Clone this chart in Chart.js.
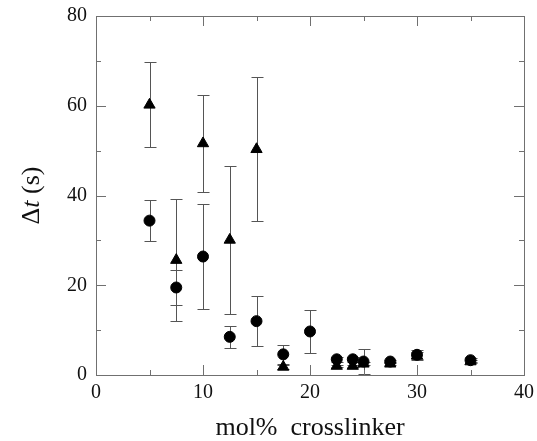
<!DOCTYPE html>
<html>
<head>
<meta charset="utf-8">
<script src="https://cdn.jsdelivr.net/npm/chart.js@4"></script>
<style>
  html, body { margin: 0; padding: 0; background: #fff; }
  #wrap { width: 537px; height: 441px; }
</style>
</head>
<body>
<div id="wrap"><canvas id="crosslink"></canvas></div>
<script>
// crosslinker content (mol%)
var circleX = [5, 7.5, 10, 12.5, 15, 17.5, 20, 22.5, 24, 25, 27.5, 30, 35];
var circleY = [34.4, 19.5, 26.4, 8.5, 12.0, 4.6, 9.7, 3.5, 3.5, 3.0, 3.0, 4.5, 3.3];
var circleErr = [4.6, 4.0, 11.8, 2.4, 5.6, 2.1, 4.7, 0.5, 0.5, 2.7, 0.4, 1.1, 0.4];

var triX = [5, 7.5, 10, 12.5, 15, 17.5, 22.5, 24, 25, 27.5, 30, 35];
var triY = [60.2, 25.6, 51.6, 30.1, 50.3, 1.8, 2.0, 2.0, 2.5, 2.5, 4.3, 3.0];
var triErr = [9.5, 13.6, 10.8, 16.5, 16.0, 0.5, 0.3, 0.3, 0.3, 0.3, 0.8, 0.3];

var xTicks = [0, 10, 20, 30, 40];
var yTicks = [0, 20, 40, 60, 80];

var axisGrey = '#707070';
var serif = '"Liberation Serif", "DejaVu Serif", serif';

function toPoints(xs, ys, es) {
    return xs.map(function (x, i) { return { x: x, y: ys[i], err: es[i] }; });
}

// error bars under the markers
var errorBars = {
    id: 'errorBars',
    beforeDatasetsDraw: function (chart) {
        var ctx = chart.ctx;
        var xs = chart.scales.x, ys = chart.scales.y;
        ctx.save();
        ctx.strokeStyle = '#555';
        ctx.lineWidth = 1;
        chart.data.datasets.forEach(function (ds) {
            ds.data.forEach(function (p) {
                var px = Math.round(xs.getPixelForValue(p.x)) + 0.5;
                var top = Math.round(ys.getPixelForValue(p.y + p.err)) + 0.5;
                var bot = Math.round(ys.getPixelForValue(Math.max(0, p.y - p.err))) + 0.5;
                ctx.beginPath();
                ctx.moveTo(px, top); ctx.lineTo(px, bot);
                ctx.moveTo(px - 6, top); ctx.lineTo(px + 6, top);
                ctx.moveTo(px - 6, bot); ctx.lineTo(px + 6, bot);
                ctx.stroke();
            });
        });
        ctx.restore();
    }
};

// box frame, inward ticks, y title with italic t
var frame = {
    id: 'frame',
    afterDraw: function (chart) {
        var ctx = chart.ctx, a = chart.chartArea;
        var xs = chart.scales.x, ys = chart.scales.y;
        ctx.save();
        ctx.strokeStyle = axisGrey;
        ctx.lineWidth = 1;
        ctx.strokeRect(Math.round(a.left) + 0.5, Math.round(a.top) + 0.5,
            Math.round(a.right - a.left), Math.round(a.bottom - a.top));
        ctx.beginPath();
        for (var v = 5; v < 40; v += 5) {
            var px = Math.round(xs.getPixelForValue(v)) + 0.5;
            var len = v % 10 === 0 ? 10 : 5;
            ctx.moveTo(px, a.bottom); ctx.lineTo(px, a.bottom - len);
            ctx.moveTo(px, a.top); ctx.lineTo(px, a.top + len);
        }
        for (var w = 10; w < 80; w += 10) {
            var py = Math.round(ys.getPixelForValue(w)) + 0.5;
            var l2 = w % 20 === 0 ? 10 : 5;
            ctx.moveTo(a.left, py); ctx.lineTo(a.left + l2, py);
            ctx.moveTo(a.right, py); ctx.lineTo(a.right - l2, py);
        }
        ctx.stroke();

        // y axis title: Δt (s)
        var parts = [['Δ', 'normal'], ['t', 'italic'], [' (s)', 'normal']];
        ctx.fillStyle = '#111';
        ctx.textBaseline = 'middle';
        var total = 0;
        parts.forEach(function (p) {
            ctx.font = p[1] + ' 26px ' + serif;
            p.push(ctx.measureText(p[0]).width);
            total += p[2];
        });
        ctx.translate(32, (a.top + a.bottom) / 2);
        ctx.rotate(-Math.PI / 2);
        var cx = -total / 2;
        parts.forEach(function (p) {
            ctx.font = p[1] + ' 26px ' + serif;
            ctx.textAlign = 'left';
            ctx.fillText(p[0], cx, 0);
            cx += p[2];
        });
        ctx.restore();
    }
};

var ctxCross = document.getElementById('crosslink').getContext('2d');

var crossChart = new Chart(ctxCross, {
    type: 'scatter',
    data: {
        datasets: [
            {
                label: 'circles',
                data: toPoints(circleX, circleY, circleErr),
                pointStyle: 'circle',
                pointRadius: 5.5,
                pointHoverRadius: 5.5,
                backgroundColor: '#000',
                borderColor: '#000',
                borderWidth: 1,
                order: 0
            },
            {
                label: 'triangles',
                data: toPoints(triX, triY, triErr),
                pointStyle: 'triangle',
                pointRadius: 6.5,
                pointHoverRadius: 6.5,
                backgroundColor: '#000',
                borderColor: '#000',
                borderWidth: 1,
                order: 1
            }
        ]
    },
    options: {
        responsive: true,
        maintainAspectRatio: false,
        animation: false,
        events: [],
        layout: { padding: { top: 16, right: 13, left: 0, bottom: 0 } },
        plugins: {
            legend: { display: false },
            tooltip: { enabled: false }
        },
        scales: {
            x: {
                type: 'linear',
                min: 0,
                max: 40,
                afterFit: function (s) { s.height = 66; s.paddingLeft = 0; s.paddingRight = 0; },
                afterBuildTicks: function (s) { s.ticks = xTicks.map(function (v) { return { value: v }; }); },
                grid: { display: false, drawTicks: false },
                border: { display: true, color: axisGrey, width: 1 },
                ticks: { color: '#111', padding: 6, font: { family: serif, size: 20 } },
                title: {
                    display: true,
                    text: 'mol%  crosslinker',
                    color: '#111',
                    font: { family: serif, size: 26 },
                    padding: { top: 0, bottom: -3 }
                }
            },
            y: {
                type: 'linear',
                min: 0,
                max: 80,
                afterFit: function (s) { s.width = 96; s.paddingTop = 0; s.paddingBottom = 0; },
                afterBuildTicks: function (s) { s.ticks = yTicks.map(function (v) { return { value: v }; }); },
                grid: { display: false, drawTicks: false },
                border: { display: true, color: axisGrey, width: 1 },
                ticks: { color: '#111', padding: 9, font: { family: serif, size: 20 } }
            }
        }
    },
    plugins: [errorBars, frame]
});
</script>
</body>
</html>
